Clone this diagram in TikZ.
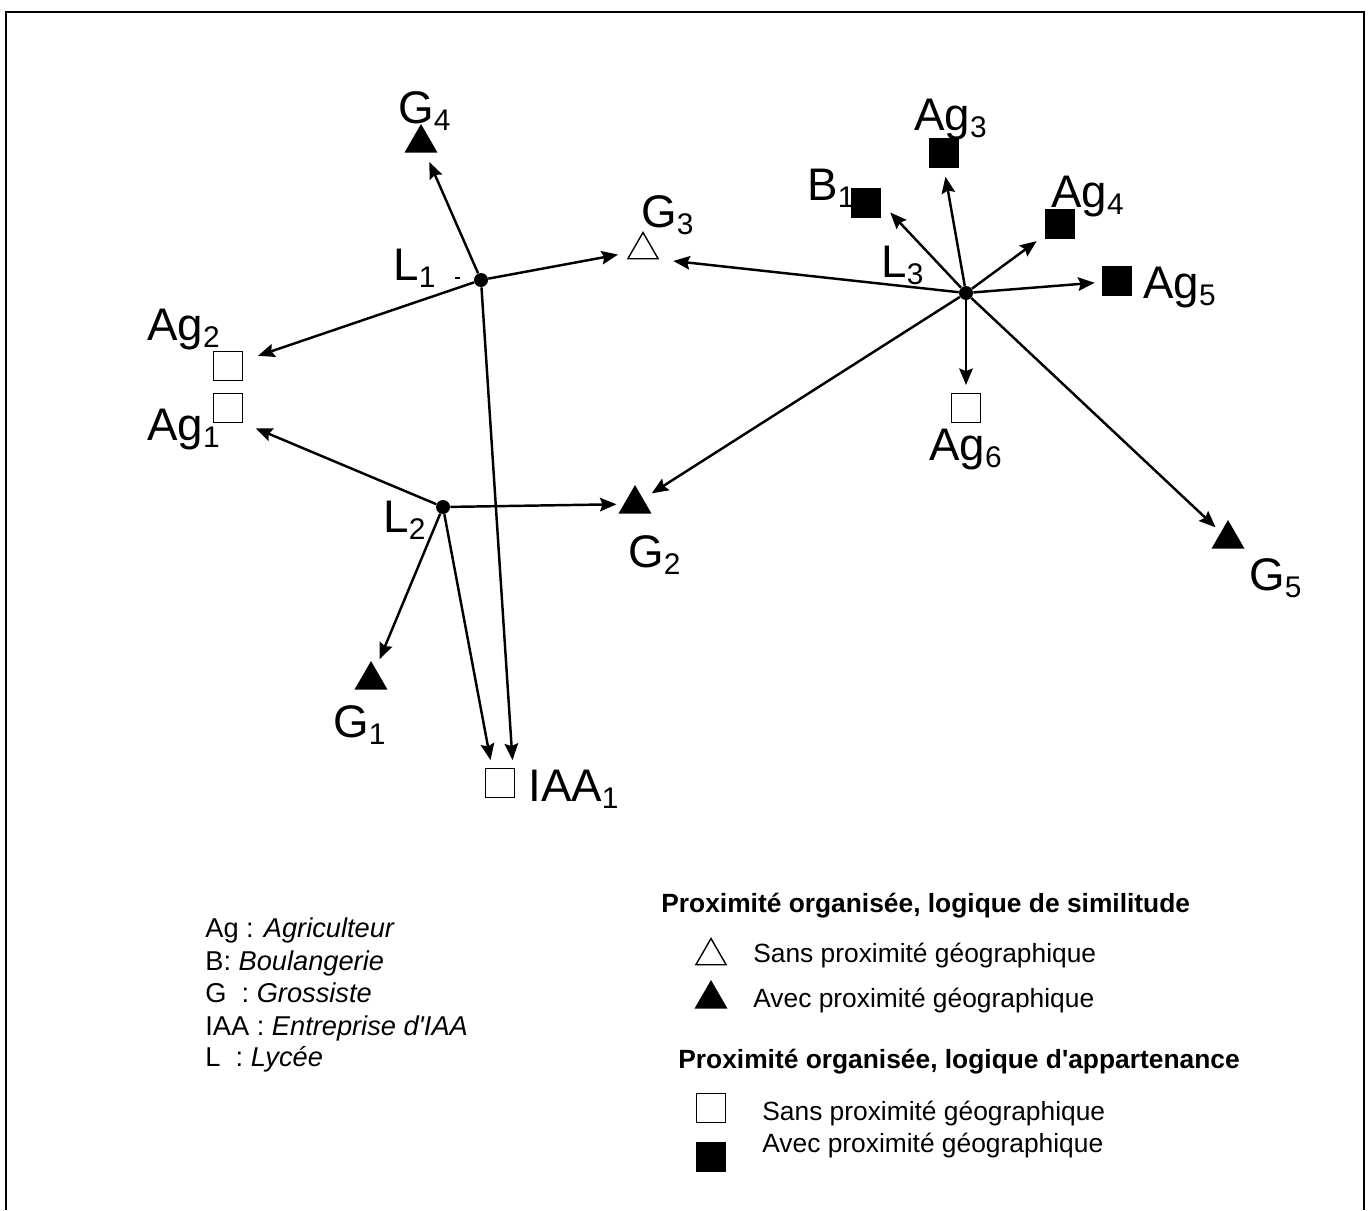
\documentclass[tikz,border=0pt]{standalone}
\usepackage{fontspec}
\setmainfont{Liberation Sans}
\usetikzlibrary{arrows.meta,shapes.geometric}

\newcommand{\lbl}[2]{#1\raisebox{-4pt}{\fontsize{17}{17}\selectfont #2}}

\begin{document}
\begin{tikzpicture}[x=0.02cm,y=-0.02cm,
    lycee/.style={circle,fill=black,inner sep=0pt,minimum size=0.28cm},
    fsq/.style={rectangle,fill=black,inner sep=0pt,minimum size=0.6cm},
    osq/.style={rectangle,draw=black,line width=0.8pt,inner sep=0pt,minimum size=0.57cm},
    ftri/.style={regular polygon,regular polygon sides=3,fill=black,inner sep=0pt,minimum size=0.76cm},
    otri/.style={regular polygon,regular polygon sides=3,draw=black,line width=0.8pt,inner sep=0pt,minimum size=0.7cm},
    lab/.style={anchor=base west,inner sep=0pt,font=\fontsize{26}{30}\selectfont},
    txt/.style={anchor=base west,inner sep=0pt,font=\fontsize{15}{18}\selectfont},
    link/.style={-{Stealth[length=3.3mm,width=2.7mm,inset=0.5mm]},line width=1.4pt}]

    \useasboundingbox (0,0) rectangle (1371,1210);
    \draw[line width=1.2pt] (6,1210) -- (6,12) -- (1364,12) -- (1364,1210);

    % Lycees
    \node[lycee] (L1) at (481,280) {};
    \node[lycee] (L2) at (443,507) {};
    \node[lycee] (L3) at (966,293) {};
    \node[lab] (L1t) at (393,280) {\lbl{L}{1}};
    \node[lab] (L2t) at (383,532) {\lbl{L}{2}};
    \node[lab] (L3t) at (881,277) {\lbl{L}{3}};
    \draw[line width=0.8pt] (455,278) -- (460,278); % stray mark

    % Grossistes
    \node[ftri] (G4) at (421,143) {};
    \node[otri] (G3) at (643,250) {};
    \node[ftri] (G2) at (635,504) {};
    \node[ftri] (G1) at (371,680) {};
    \node[ftri] (G5) at (1228,539) {};
    \node[lab] (G4t) at (398,123) {\lbl{G}{4}};
    \node[lab] (G3t) at (641,227) {\lbl{G}{3}};
    \node[lab] (G2t) at (628,567) {\lbl{G}{2}};
    \node[lab] (G1t) at (333,737) {\lbl{G}{1}};
    \node[lab] (G5t) at (1249,590) {\lbl{G}{5}};

    % Agriculteurs, boulangerie, IAA
    \node[osq] (Ag2) at (228,366) {};
    \node[osq] (Ag1) at (228,408) {};
    \node[fsq] (Ag3) at (944,153) {};
    \node[fsq] (Ag4) at (1060,224) {};
    \node[fsq] (Ag5) at (1117,281) {};
    \node[osq] (Ag6) at (966,408) {};
    \node[fsq] (B1) at (866,203) {};
    \node[osq] (IAA1) at (500,783) {};
    \node[lab] (Ag2t) at (147,340) {\lbl{Ag}{2}};
    \node[lab] (Ag1t) at (147,440) {\lbl{Ag}{1}};
    \node[lab] (Ag3t) at (914,130) {\lbl{Ag}{3}};
    \node[lab] (Ag4t) at (1051,207) {\lbl{Ag}{4}};
    \node[lab] (Ag5t) at (1143,298) {\lbl{Ag}{5}};
    \node[lab] (Ag6t) at (929,460) {\lbl{Ag}{6}};
    \node[lab] (B1t) at (807,200) {\lbl{B}{1}};
    \node[lab] (IAA1t) at (528,801) {\lbl{IAA}{1}};

    % Liens L1
    \draw[link,shorten >=0.2cm] (L1) -- (G4);
    \draw[link,shorten >=0.26cm] (L1) -- (G3);
    \draw[link,shorten >=0.32cm] (L1) -- (Ag2);
    \draw[link,shorten >=0.16cm] (L1) -- ([xshift=0.26cm]IAA1.north);

    % Liens L2
    \draw[link,shorten >=0.28cm] (L2) -- (Ag1.south east);
    \draw[link,shorten >=0.14cm] (L2) -- (G2);
    \draw[link,shorten >=0.2cm] (L2) -- (G1);
    \draw[link,shorten >=0.16cm] (L2) -- ([xshift=-0.16cm]IAA1.north);

    % Liens L3
    \draw[link,shorten >=0.28cm] (L3) -- (G3.corner 3);
    \draw[link,shorten >=0.2cm] (L3) -- (G2);
    \draw[link,shorten >=0.26cm] (L3) -- (B1.east);
    \draw[link,shorten >=0.17cm] (L3) -- (Ag3.south);
    \draw[link,shorten >=0.2cm] (L3) -- (Ag4);
    \draw[link,shorten >=0.14cm] (L3) -- (Ag5);
    \draw[link,shorten >=0.16cm] (L3) -- (Ag6);
    \draw[link,shorten >=0.14cm] (L3) -- (G5);

    % Legende des sigles
    \node[txt,font=\fontsize{15.5}{18}\selectfont] (k1) at (205,937) {Ag : \textit{Agriculteur}};
    \node[txt,font=\fontsize{15.5}{18}\selectfont] (k2) at (205,970) {B: \textit{Boulangerie}};
    \node[txt,font=\fontsize{15.5}{18}\selectfont] (k3) at (205,1002) {G\ \ : \textit{Grossiste}};
    \node[txt,font=\fontsize{15.5}{18}\selectfont] (k4) at (205,1035) {IAA : \textit{Entreprise d\textquotesingle IAA}};
    \node[txt,font=\fontsize{15.5}{18}\selectfont] (k5) at (205,1066) {L\ \ : \textit{Lyc\'ee}};

    % Legende des symboles
    \node[txt,font=\fontsize{15}{18}\selectfont\bfseries] (t1) at (661,912) {Proximit\'e organis\'ee, logique de similitude};
    \node[otri] (m1) at (711,956) {};
    \node[txt] (s1) at (753,962) {Sans proximit\'e g\'eographique};
    \node[ftri] (m2) at (711,999) {};
    \node[txt] (s2) at (753,1007) {Avec proximit\'e g\'eographique};
    \node[txt,font=\fontsize{15}{18}\selectfont\bfseries] (t2) at (678,1068) {Proximit\'e organis\'ee, logique d\textquotesingle appartenance};
    \node[osq] (m3) at (711,1108) {};
    \node[txt] (s3) at (762,1120) {Sans proximit\'e g\'eographique};
    \node[fsq] (m4) at (711,1157) {};
    \node[txt] (s4) at (762,1152) {Avec proximit\'e g\'eographique};

\end{tikzpicture}
\end{document}
